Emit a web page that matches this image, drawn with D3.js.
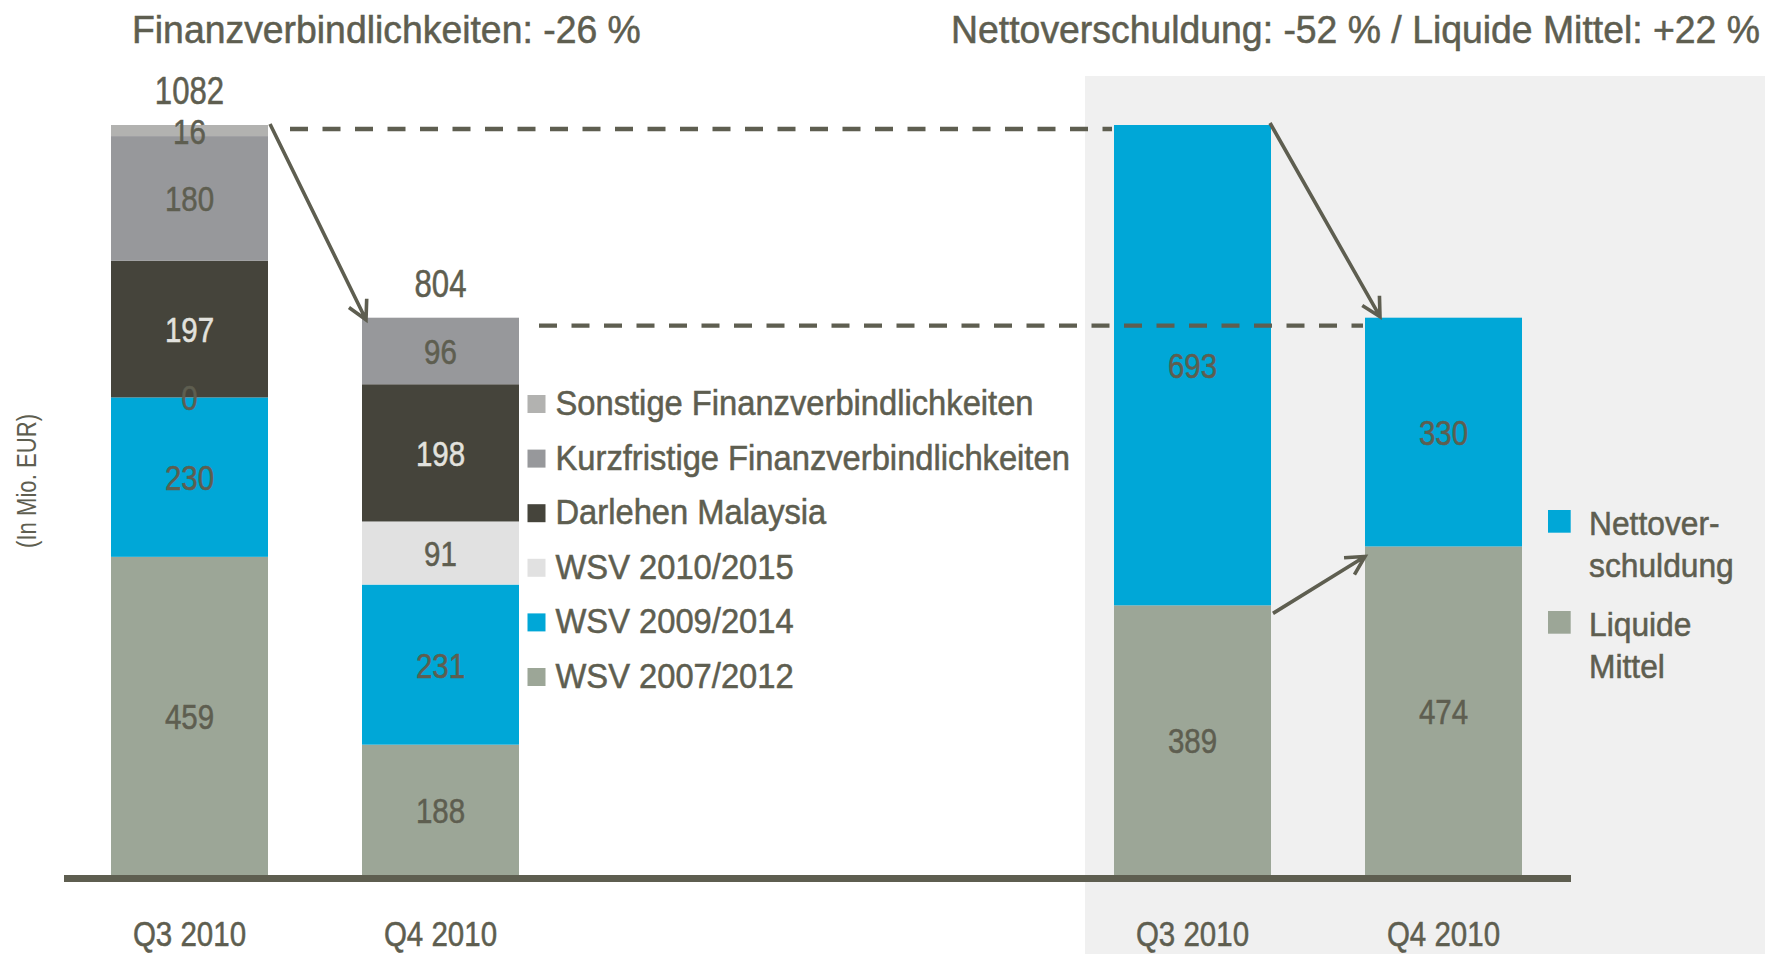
<!DOCTYPE html>
<html><head><meta charset="utf-8">
<script src="https://cdn.jsdelivr.net/npm/d3@7"></script>
<style>
html,body{margin:0;padding:0;background:#fff;}
svg{display:block;}
</style></head><body>
<svg id="chart" width="1765" height="954"></svg>
<script>
// ---------- data ----------
const periods = ["Q3 2010", "Q4 2010"];
const debtSeries = ["WSV 2007/2012", "WSV 2009/2014", "WSV 2010/2015", "Darlehen Malaysia",
  "Kurzfristige Finanzverbindlichkeiten", "Sonstige Finanzverbindlichkeiten"];
const wsv2007 = [459, 188];
const wsv2009 = [230, 231];
const wsv2010 = [0, 91];
const darlehen = [197, 198];
const kurzfristig = [180, 96];
const sonstige = [16, null];
const totalsDebt = [1082, 804];

const netSeries = ["Liquide Mittel", "Nettoverschuldung"];
const liquideMittel = [389, 474];
const nettoverschuldung = [693, 330];

const titleLeft = "Finanzverbindlichkeiten: -26 %";
const titleRight = "Nettoverschuldung: -52 % / Liquide Mittel: +22 %";
const yLabel = "(In Mio. EUR)";
const netLegendLines = [["Nettover-", "schuldung"], ["Liquide", "Mittel"]];

// ---------- styles ----------
const debtColors = ["#9ca697", "#00a7d7", "#e1e1e1", "#45443b", "#97989b", "#b2b2b0"];
const netColors = ["#9ca697", "#00a7d7"];
const ink = "#5e5e50";
const lightInk = "#e2e2de";
const FONT = "'Liberation Sans Narrow','Arial Narrow','Liberation Sans',Arial,sans-serif";

const svg = d3.select("#chart");

// calibrate narrow font width
const probe = svg.append("text").attr("font-family", FONT).attr("font-size", 100).text("0123456789");
const ratio = probe.node().getComputedTextLength() / 456;
probe.remove();
const digitScale = 1 / ratio;
const letterScale = 1.14 / ratio;

function txt(g, s, x, y, size, opts = {}) {
  const sx = opts.sx || digitScale;
  const fill = opts.fill || ink;
  return g.append("text")
    .attr("transform", `translate(${x},${y}) scale(${sx},1)`)
    .attr("font-family", FONT)
    .attr("font-size", size)
    .attr("text-anchor", opts.anchor || "start")
    .attr("fill", fill)
    .attr("stroke", fill)
    .attr("stroke-width", 0.55)
    .attr("dy", opts.dy || null)
    .text(s);
}

// ---------- scales ----------
const y = d3.scaleLinear().domain([0, d3.max(totalsDebt)]).range([875, 125]);
const xL = d3.scaleBand().domain(periods).range([111, 519]).paddingInner(0.3745).paddingOuter(0);
const xR = d3.scaleBand().domain(periods).range([1114, 1522]).paddingInner(0.3745).paddingOuter(0);
const bw = xL.bandwidth();

// grey panel
svg.append("rect").attr("x", 1085).attr("y", 76).attr("width", 1765 - 1085).attr("height", 954 - 76).attr("fill", "#f0f0f0");

// ---------- left stacked bars ----------
const debtArrays = [wsv2007, wsv2009, wsv2010, darlehen, kurzfristig, sonstige];
const debtRows = periods.map((p, i) => {
  const r = { period: p };
  debtSeries.forEach((k, j) => r[k] = debtArrays[j][i]);
  return r;
});
const debtStack = d3.stack().keys(debtSeries).value((d, k) => d[k] == null ? 0 : d[k])(debtRows);

const gL = svg.append("g");
debtStack.forEach((layer, j) => {
  gL.selectAll(null).data(layer).enter().append("rect")
    .attr("x", d => xL(d.data.period))
    .attr("y", d => y(d[1]))
    .attr("width", bw)
    .attr("height", d => y(d[0]) - y(d[1]))
    .attr("fill", debtColors[j]);
});
debtStack.forEach((layer, j) => {
  layer.forEach(d => {
    const v = d.data[layer.key];
    if (v == null) return;
    txt(gL, String(v), xL(d.data.period) + bw / 2, (y(d[0]) + y(d[1])) / 2, 36,
      { anchor: "middle", dy: "0.36em", fill: layer.key === "Darlehen Malaysia" ? lightInk : ink });
  });
});
periods.forEach((p, i) => {
  txt(gL, String(totalsDebt[i]), xL(p) + bw / 2, y(totalsDebt[i]) - 21, 38, { anchor: "middle" });
});

// ---------- right stacked bars ----------
const netArrays = [liquideMittel, nettoverschuldung];
const netRows = periods.map((p, i) => {
  const r = { period: p };
  netSeries.forEach((k, j) => r[k] = netArrays[j][i]);
  return r;
});
const netStack = d3.stack().keys(netSeries)(netRows);
const gR = svg.append("g");
netStack.forEach((layer, j) => {
  gR.selectAll(null).data(layer).enter().append("rect")
    .attr("x", d => xR(d.data.period))
    .attr("y", d => y(d[1]))
    .attr("width", bw)
    .attr("height", d => y(d[0]) - y(d[1]))
    .attr("fill", netColors[j]);
});
netStack.forEach(layer => {
  layer.forEach(d => {
    txt(gR, String(d.data[layer.key]), xR(d.data.period) + bw / 2, (y(d[0]) + y(d[1])) / 2, 36,
      { anchor: "middle", dy: "0.36em" });
  });
});

// ---------- axes ----------
function styleAxis(g) {
  g.select(".domain").remove();
  g.selectAll("text").attr("font-family", FONT).attr("font-size", 36).attr("fill", ink)
    .attr("stroke", ink).attr("stroke-width", 0.55)
    .attr("transform", `scale(${digitScale},1)`);
}
svg.append("g").attr("transform", "translate(0,875)")
  .call(d3.axisBottom(xL).tickSize(0).tickPadding(45)).call(styleAxis);
svg.append("g").attr("transform", "translate(0,875)")
  .call(d3.axisBottom(xR).tickSize(0).tickPadding(45)).call(styleAxis);
svg.append("rect").attr("x", 64).attr("y", 875).attr("width", 1571 - 64).attr("height", 7).attr("fill", ink);

// y label
svg.append("text")
  .attr("transform", `translate(36,481) rotate(-90) scale(${digitScale},1)`)
  .attr("font-family", FONT).attr("font-size", 27).attr("text-anchor", "middle").attr("fill", ink)
  .text(yLabel);

// ---------- connector lines & arrows ----------
const gA = svg.append("g").attr("stroke", ink).attr("fill", "none");
gA.append("line").attr("x1", xL(periods[0]) + bw + 22).attr("x2", xR(periods[0]) - 2)
  .attr("y1", y(totalsDebt[0]) + 4).attr("y2", y(totalsDebt[0]) + 4)
  .attr("stroke-width", 4.3).attr("stroke-dasharray", "18 14.5");
gA.append("line").attr("x1", xL(periods[1]) + bw + 20).attr("x2", xR(periods[1]) - 2)
  .attr("y1", y(totalsDebt[1]) + 8).attr("y2", y(totalsDebt[1]) + 8)
  .attr("stroke-width", 4.3).attr("stroke-dasharray", "18 14.5");

function arrow(x1, y1, x2, y2) {
  const a = Math.atan2(y2 - y1, x2 - x1), L = 21, s = 0.49;
  const p1 = [x2 - L * Math.cos(a + s), y2 - L * Math.sin(a + s)];
  const p2 = [x2 - L * Math.cos(a - s), y2 - L * Math.sin(a - s)];
  gA.append("path").attr("stroke-width", 3.6).attr("stroke-linejoin", "miter")
    .attr("d", `M${x1},${y1}L${x2},${y2}M${p1[0]},${p1[1]}L${x2},${y2}L${p2[0]},${p2[1]}`);
}
arrow(xL(periods[0]) + bw + 2, y(totalsDebt[0]) - 1, xL(periods[1]) + 4, y(totalsDebt[1]) + 2);
arrow(xR(periods[0]) + bw - 1, y(totalsDebt[0]) - 2, xR(periods[1]) + 15, y(totalsDebt[1]) - 1);
arrow(xR(periods[0]) + bw + 2, y(liquideMittel[0]) + 8, xR(periods[1]), y(liquideMittel[1]) + 10);

// ---------- titles ----------
txt(svg, titleLeft, 132, 43, 39, { sx: letterScale * 1.025 });
txt(svg, titleRight, 1760, 43, 39, { sx: letterScale * 1.025, anchor: "end" });

// ---------- legends ----------
const legL = svg.append("g");
debtSeries.slice().reverse().forEach((name, i) => {
  const top = 395 + i * 54.6;
  legL.append("rect").attr("x", 527.5).attr("y", top).attr("width", 18).attr("height", 18)
    .attr("fill", debtColors[debtSeries.indexOf(name)]);
  txt(legL, name, 555.5, top + 20, 35, { sx: letterScale });
});
const legR = svg.append("g");
netSeries.slice().reverse().forEach((name, i) => {
  const top = 510 + i * 101;
  legR.append("rect").attr("x", 1548).attr("y", top).attr("width", 22.7).attr("height", 22.7)
    .attr("fill", netColors[netSeries.indexOf(name)]);
  netLegendLines[i].forEach((line, k) => {
    txt(legR, line, 1589, top + 25 + k * 42, 33, { sx: letterScale * 1.03 });
  });
});
</script>
</body></html>
